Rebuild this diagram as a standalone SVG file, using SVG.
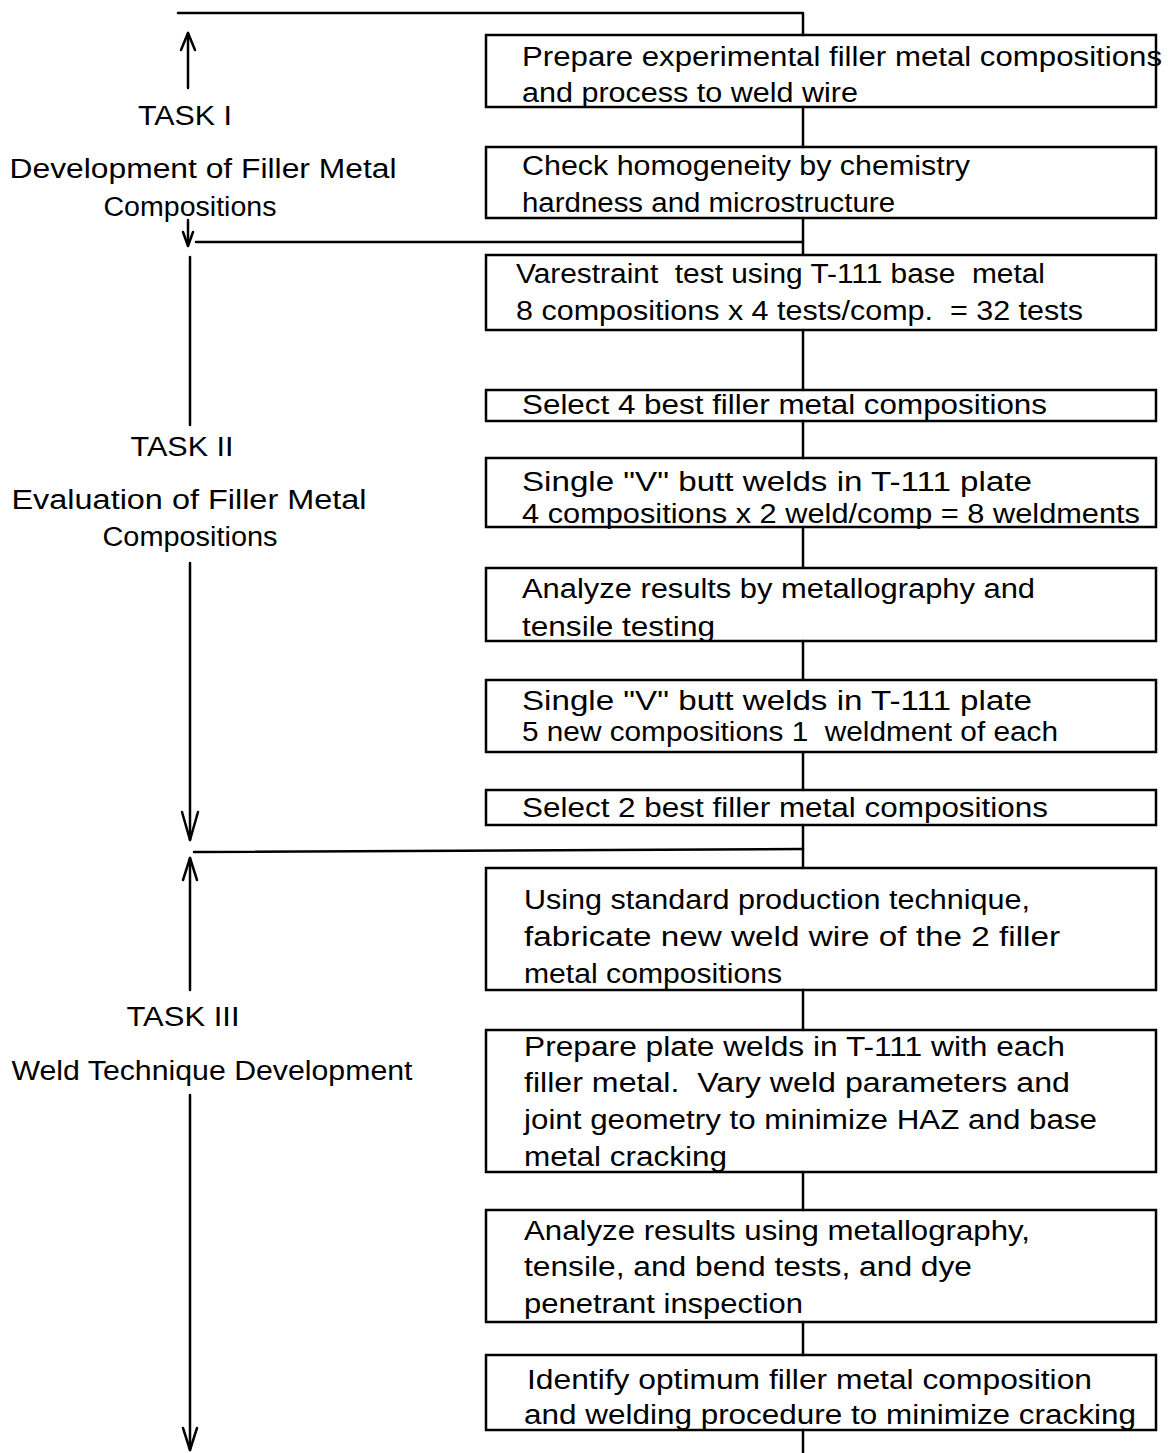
<svg xmlns="http://www.w3.org/2000/svg" width="1168" height="1453" viewBox="0 0 1168 1453">
<style>
  .bg{fill:#ffffff}
  .box{fill:none;stroke:#000;stroke-width:2.5}
  .ln{fill:none;stroke:#000;stroke-width:2.5;stroke-linecap:round;stroke-linejoin:round}
  .t{font-family:"Liberation Sans",Arial,sans-serif;font-size:27px;fill:#000}
  .c{text-anchor:middle}
</style>
<rect class="bg" x="0" y="0" width="1168" height="1453"/>
<g id="connectors">
  <polyline class="ln" points="178,13 803,13 803,35"/>
  <line class="ln" x1="803" y1="107" x2="803" y2="147"/>
  <line class="ln" x1="803" y1="218" x2="803" y2="255"/>
  <line class="ln" x1="196" y1="242" x2="803" y2="242"/>
  <line class="ln" x1="803" y1="330" x2="803" y2="390"/>
  <line class="ln" x1="803" y1="421" x2="803" y2="458"/>
  <line class="ln" x1="803" y1="527" x2="803" y2="568"/>
  <line class="ln" x1="803" y1="641" x2="803" y2="680"/>
  <line class="ln" x1="803" y1="752" x2="803" y2="790"/>
  <line class="ln" x1="803" y1="825" x2="803" y2="868"/>
  <line class="ln" x1="194" y1="852" x2="803" y2="849"/>
  <line class="ln" x1="803" y1="990" x2="803" y2="1030"/>
  <line class="ln" x1="803" y1="1172" x2="803" y2="1210"/>
  <line class="ln" x1="803" y1="1322" x2="803" y2="1355"/>
  <line class="ln" x1="803" y1="1430" x2="803" y2="1453"/>
  <line class="ln" x1="188" y1="33" x2="188" y2="88"/>
  <polyline class="ln" points="181,50 188,33 195,50"/>
  <line class="ln" x1="188" y1="220" x2="188" y2="245"/>
  <polyline class="ln" points="183,232 188,246 193,232"/>
  <line class="ln" x1="190" y1="257" x2="190" y2="425"/>
  <line class="ln" x1="190" y1="563" x2="190" y2="840"/>
  <polyline class="ln" points="182,812 190,840 198,812"/>
  <line class="ln" x1="190" y1="858" x2="190" y2="990"/>
  <polyline class="ln" points="183,880 190,858 197,880"/>
  <line class="ln" x1="190" y1="1095" x2="190" y2="1450"/>
  <polyline class="ln" points="183,1428 190,1450 197,1428"/>
</g>
<g id="task1">
  <text class="t c" x="185" y="125" textLength="94" lengthAdjust="spacingAndGlyphs">TASK I</text>
  <text class="t c" x="203" y="178" textLength="387" lengthAdjust="spacingAndGlyphs">Development of Filler Metal</text>
  <text class="t c" x="190" y="216" textLength="173" lengthAdjust="spacingAndGlyphs">Compositions</text>
</g>
<g id="task2">
  <text class="t c" x="182" y="456" textLength="103" lengthAdjust="spacingAndGlyphs">TASK II</text>
  <text class="t c" x="189" y="509" textLength="355" lengthAdjust="spacingAndGlyphs">Evaluation of Filler Metal</text>
  <text class="t c" x="190" y="546" textLength="175" lengthAdjust="spacingAndGlyphs">Compositions</text>
</g>
<g id="task3">
  <text class="t c" x="183" y="1026" textLength="113" lengthAdjust="spacingAndGlyphs">TASK III</text>
  <text class="t c" x="212" y="1080" textLength="401" lengthAdjust="spacingAndGlyphs">Weld Technique Development</text>
</g>
<g id="box1">
  <rect class="box" x="486" y="35" width="670" height="72"/>
  <text class="t" x="522" y="66" textLength="640" lengthAdjust="spacingAndGlyphs">Prepare experimental filler metal compositions</text>
  <text class="t" x="522" y="102" textLength="336" lengthAdjust="spacingAndGlyphs">and process to weld wire</text>
</g>
<g id="box2">
  <rect class="box" x="486" y="147" width="670" height="71"/>
  <text class="t" x="522" y="175" textLength="448" lengthAdjust="spacingAndGlyphs">Check homogeneity by chemistry</text>
  <text class="t" x="522" y="212" textLength="373" lengthAdjust="spacingAndGlyphs">hardness and microstructure</text>
</g>
<g id="box3">
  <rect class="box" x="486" y="255" width="670" height="75"/>
  <text class="t" x="516" y="283" textLength="529" lengthAdjust="spacingAndGlyphs" xml:space="preserve">Varestraint  test using T-111 base  metal</text>
  <text class="t" x="516" y="320" textLength="567" lengthAdjust="spacingAndGlyphs" xml:space="preserve">8 compositions x 4 tests/comp.  = 32 tests</text>
</g>
<g id="box4">
  <rect class="box" x="486" y="390" width="670" height="31"/>
  <text class="t" x="522" y="414" textLength="525" lengthAdjust="spacingAndGlyphs">Select 4 best filler metal compositions</text>
</g>
<g id="box5">
  <rect class="box" x="486" y="458" width="670" height="69"/>
  <text class="t" x="522" y="491" textLength="510" lengthAdjust="spacingAndGlyphs">Single "V" butt welds in T-111 plate</text>
  <text class="t" x="522" y="523" textLength="618" lengthAdjust="spacingAndGlyphs">4 compositions x 2 weld/comp = 8 weldments</text>
</g>
<g id="box6">
  <rect class="box" x="486" y="568" width="670" height="73"/>
  <text class="t" x="522" y="598" textLength="513" lengthAdjust="spacingAndGlyphs">Analyze results by metallography and</text>
  <text class="t" x="522" y="636" textLength="193" lengthAdjust="spacingAndGlyphs">tensile testing</text>
</g>
<g id="box7">
  <rect class="box" x="486" y="680" width="670" height="72"/>
  <text class="t" x="522" y="710" textLength="510" lengthAdjust="spacingAndGlyphs">Single "V" butt welds in T-111 plate</text>
  <text class="t" x="522" y="741" textLength="536" lengthAdjust="spacingAndGlyphs" xml:space="preserve">5 new compositions 1  weldment of each</text>
</g>
<g id="box8">
  <rect class="box" x="486" y="790" width="670" height="35"/>
  <text class="t" x="522" y="817" textLength="526" lengthAdjust="spacingAndGlyphs">Select 2 best filler metal compositions</text>
</g>
<g id="box9">
  <rect class="box" x="486" y="868" width="670" height="122"/>
  <text class="t" x="524" y="909" textLength="506" lengthAdjust="spacingAndGlyphs">Using standard production technique,</text>
  <text class="t" x="524" y="946" textLength="536" lengthAdjust="spacingAndGlyphs">fabricate new weld wire of the 2 filler</text>
  <text class="t" x="524" y="983" textLength="258" lengthAdjust="spacingAndGlyphs">metal compositions</text>
</g>
<g id="box10">
  <rect class="box" x="486" y="1030" width="670" height="142"/>
  <text class="t" x="524" y="1056" textLength="541" lengthAdjust="spacingAndGlyphs">Prepare plate welds in T-111 with each</text>
  <text class="t" x="524" y="1092" textLength="546" lengthAdjust="spacingAndGlyphs" xml:space="preserve">filler metal.  Vary weld parameters and</text>
  <text class="t" x="524" y="1129" textLength="573" lengthAdjust="spacingAndGlyphs">joint geometry to minimize HAZ and base</text>
  <text class="t" x="524" y="1166" textLength="203" lengthAdjust="spacingAndGlyphs">metal cracking</text>
</g>
<g id="box11">
  <rect class="box" x="486" y="1210" width="670" height="112"/>
  <text class="t" x="524" y="1240" textLength="506" lengthAdjust="spacingAndGlyphs">Analyze results using metallography,</text>
  <text class="t" x="524" y="1276" textLength="448" lengthAdjust="spacingAndGlyphs">tensile, and bend tests, and dye</text>
  <text class="t" x="524" y="1313" textLength="279" lengthAdjust="spacingAndGlyphs">penetrant inspection</text>
</g>
<g id="box12">
  <rect class="box" x="486" y="1355" width="670" height="75"/>
  <text class="t" x="527" y="1389" textLength="565" lengthAdjust="spacingAndGlyphs">Identify optimum filler metal composition</text>
  <text class="t" x="524" y="1424" textLength="612" lengthAdjust="spacingAndGlyphs">and welding procedure to minimize cracking</text>
</g>
</svg>
